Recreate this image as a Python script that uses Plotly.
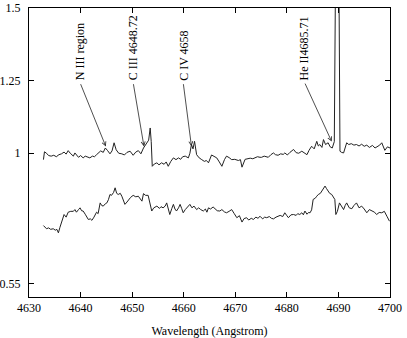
import plotly.graph_objects as go

# upper spectrum (wavelength, relative flux)
wl_top = [
  4632.8, 4633.0, 4633.4, 4633.8, 4634.3, 4634.8, 4635.3, 4635.8, 4636.3, 4636.8,
  4637.2, 4637.6, 4638.0, 4638.6, 4638.9, 4639.3, 4639.6, 4640.0, 4640.5, 4640.9,
  4641.4, 4641.8, 4642.3, 4642.7, 4643.1, 4643.5, 4643.9, 4644.4, 4644.8, 4645.2,
  4645.7, 4646.1, 4646.5, 4646.9, 4647.4, 4648.0, 4648.5, 4649.0, 4649.6, 4650.2,
  4650.7, 4651.2, 4651.7, 4652.2, 4652.8, 4653.2, 4653.5, 4653.7, 4653.9, 4654.3,
  4654.8, 4655.2, 4655.7, 4656.2, 4656.6, 4657.0, 4657.5, 4658.0, 4658.5, 4659.0,
  4659.4, 4659.8, 4660.3, 4660.9, 4661.2, 4661.5, 4661.8, 4662.1, 4662.5, 4663.0,
  4663.5, 4664.0, 4664.4, 4664.8, 4665.4, 4665.9, 4666.4, 4666.9, 4667.4, 4667.9,
  4668.3, 4668.8, 4669.3, 4669.9, 4670.6, 4671.0, 4671.3, 4671.9, 4672.4, 4672.9,
  4673.4, 4673.8, 4674.3, 4674.8, 4675.1, 4675.6, 4676.0, 4676.4, 4676.9, 4677.4,
  4677.8, 4678.3, 4678.8, 4679.3, 4679.6, 4680.1, 4680.6, 4681.0, 4681.3, 4681.8,
  4682.3, 4682.9, 4683.4, 4683.9, 4684.3, 4684.8, 4685.3, 4685.8, 4686.1, 4686.4,
  4686.8, 4687.1, 4687.5, 4688.0, 4688.4, 4688.8, 4689.2, 4689.6, 4689.8, 4690.3,
  4690.6, 4691.0, 4691.3, 4691.6, 4692.0, 4692.5, 4693.0, 4693.5, 4694.0, 4694.5,
  4695.0, 4695.5, 4696.0, 4696.6, 4697.1, 4697.6, 4698.0, 4698.4, 4699.0, 4699.5,
  4700.0,
]
flux_top = [
  0.978, 1.005, 1.000, 0.992, 0.990, 0.993, 0.988, 0.995, 0.998, 1.004,
  0.997, 1.009, 1.000, 0.990, 1.001, 0.993, 0.986, 0.992, 0.984, 0.990,
  0.986, 0.984, 0.990, 0.988, 0.995, 1.000, 1.008, 1.003, 1.018, 1.010,
  0.998, 1.008, 1.036, 1.012, 1.000, 0.998, 0.994, 1.003, 1.007, 0.993,
  1.004, 1.009, 0.998, 1.018, 1.036, 1.045, 1.087, 1.040, 0.955, 0.963,
  0.967, 0.960, 0.967, 0.962, 0.970, 0.955, 0.972, 0.984, 0.978, 0.984,
  0.979, 0.988, 0.990, 0.984, 1.000, 1.030, 1.015, 1.041, 0.995, 0.984,
  0.978, 0.972, 0.975, 0.967, 0.994, 0.990, 0.984, 0.970, 0.955, 0.978,
  0.990, 0.985, 0.978, 0.979, 0.975, 0.978, 0.952, 0.979, 0.981, 0.983,
  0.981, 0.984, 0.988, 0.986, 0.986, 0.990, 0.987, 0.986, 0.995, 1.001,
  0.995, 0.993, 0.998, 0.996, 1.001, 0.994, 1.003, 1.008, 1.013, 1.002,
  1.000, 1.007, 1.000, 0.995, 1.010, 1.024, 1.015, 1.041, 1.025, 1.030,
  1.020, 1.047, 1.030, 1.036, 1.022, 1.018, 1.040, 2.500, 2.500, 1.007,
  1.003, 1.001, 1.020, 1.036, 1.030, 1.033, 1.028, 1.030, 1.025, 1.031,
  1.024, 1.028, 1.020, 1.027, 1.018, 1.022, 1.028, 1.036, 1.010, 1.022,
  1.018,
]

# lower spectrum
wl_bot = [
  4632.8, 4633.1, 4633.4, 4633.8, 4634.2, 4634.7, 4635.1, 4635.4, 4635.7, 4636.0,
  4636.4, 4636.8, 4637.2, 4637.6, 4638.1, 4638.6, 4638.9, 4639.2, 4639.6, 4639.9,
  4640.2, 4640.5, 4640.9, 4641.2, 4641.5, 4641.9, 4642.2, 4642.6, 4643.1, 4643.4,
  4643.8, 4644.1, 4644.4, 4644.8, 4645.1, 4645.4, 4645.7, 4646.0, 4646.4, 4646.7,
  4647.0, 4647.3, 4647.7, 4648.0, 4648.3, 4648.6, 4649.0, 4649.3, 4649.7, 4650.2,
  4650.7, 4651.2, 4651.5, 4651.9, 4652.2, 4652.6, 4653.1, 4653.4, 4653.8, 4654.2,
  4654.8, 4655.3, 4655.6, 4656.0, 4656.4, 4656.7, 4657.0, 4657.3, 4657.7, 4658.0,
  4658.3, 4658.6, 4659.0, 4659.3, 4659.6, 4659.9, 4660.3, 4660.8, 4661.2, 4661.6,
  4662.0, 4662.5, 4662.9, 4663.3, 4663.8, 4664.2, 4664.5, 4664.8, 4665.2, 4665.7,
  4666.1, 4666.5, 4667.0, 4667.4, 4667.9, 4668.3, 4668.8, 4669.3, 4669.8, 4670.3,
  4670.8, 4671.3, 4671.7, 4672.2, 4672.6, 4673.1, 4673.5, 4674.0, 4674.4, 4674.8,
  4675.3, 4675.7, 4676.1, 4676.6, 4677.0, 4677.4, 4677.9, 4678.3, 4678.7, 4679.2,
  4679.6, 4680.0, 4680.3, 4680.8, 4681.3, 4681.8, 4682.1, 4682.5, 4682.9, 4683.2,
  4683.5, 4683.9, 4684.2, 4684.5, 4684.8, 4685.1, 4685.5, 4685.8, 4686.1, 4686.5,
  4686.8, 4687.1, 4687.4, 4687.7, 4688.0, 4688.3, 4688.7, 4689.0, 4689.3, 4689.5,
  4689.8, 4690.2, 4690.6, 4691.0, 4691.3, 4691.6, 4692.1, 4692.6, 4693.0, 4693.5,
  4694.0, 4694.5, 4695.0, 4695.5, 4696.0, 4696.5, 4697.0, 4697.4, 4697.9, 4698.4,
  4698.9, 4699.4, 4699.9,
]
flux_bot = [
  0.751, 0.745, 0.740, 0.743, 0.738, 0.740, 0.735, 0.738, 0.726, 0.745,
  0.770, 0.789, 0.780, 0.797, 0.800, 0.800, 0.806, 0.797, 0.806, 0.812,
  0.802, 0.801, 0.790, 0.780, 0.772, 0.774, 0.769, 0.780, 0.797, 0.792,
  0.829, 0.820, 0.818, 0.826, 0.829, 0.840, 0.858, 0.855, 0.865, 0.881,
  0.862, 0.858, 0.862, 0.852, 0.838, 0.824, 0.832, 0.841, 0.848, 0.855,
  0.850, 0.852, 0.845, 0.835, 0.861, 0.855, 0.855, 0.835, 0.801, 0.812,
  0.818, 0.810, 0.816, 0.812, 0.818, 0.829, 0.805, 0.789, 0.810, 0.824,
  0.808, 0.801, 0.812, 0.824, 0.810, 0.795, 0.806, 0.815, 0.824, 0.812,
  0.818, 0.806, 0.812, 0.806, 0.801, 0.808, 0.797, 0.812, 0.808, 0.815,
  0.808, 0.802, 0.801, 0.806, 0.798, 0.795, 0.800, 0.806, 0.792, 0.778,
  0.785, 0.763, 0.775, 0.778, 0.770, 0.776, 0.772, 0.780, 0.776, 0.783,
  0.774, 0.780, 0.778, 0.782, 0.776, 0.774, 0.780, 0.784, 0.786, 0.782,
  0.795, 0.785, 0.778, 0.788, 0.789, 0.786, 0.792, 0.789, 0.795, 0.788,
  0.801, 0.790, 0.796, 0.795, 0.805, 0.841, 0.845, 0.852, 0.858, 0.862,
  0.869, 0.878, 0.887, 0.878, 0.869, 0.862, 0.858, 0.850, 0.841, 0.789,
  0.800, 0.829, 0.815, 0.806, 0.820, 0.829, 0.812, 0.809, 0.820, 0.829,
  0.812, 0.818, 0.808, 0.795, 0.806, 0.801, 0.797, 0.789, 0.796, 0.795,
  0.800, 0.783, 0.766,
]

# line labels: text, arrow tip (wl, flux), label anchor (wl, flux)
labels = ["N III region", "C III 4648.72", "C IV 4658", "He II4685.71"]
tip_wl = [4644.9, 4652.3, 4661.5, 4688.7]
tip_flux = [1.023, 1.023, 1.024, 1.040]
tail_wl = [4639.9, 4650.2, 4659.9, 4683.4]
tail_flux = [1.243, 1.243, 1.243, 1.245]

font = dict(family="Liberation Serif, Times New Roman, serif", size=12, color="black")

fig = go.Figure()
for wl, fl in [(wl_top, flux_top), (wl_bot, flux_bot)]:
  fig.add_trace(go.Scatter(
    x=wl, y=fl, mode="lines",
    line={"color": "#222222", "width": 1},
    showlegend=False, hoverinfo="skip",
  ))

for txt, tx, ty, ax, ay in zip(labels, tip_wl, tip_flux, tail_wl, tail_flux):
  # arrow only
  fig.add_annotation(
    x=tx, y=ty, ax=ax, ay=ay, axref="x", ayref="y",
    text="", showarrow=True, arrowhead=5, arrowsize=1,
    arrowwidth=0.8, arrowcolor="#222222",
  )
  # rotated label sitting on top of the arrow tail
  fig.add_annotation(
    x=ax, y=ay, text=txt, textangle=-90, showarrow=False,
    xanchor="center", yanchor="bottom", font=font,
  )

axis = dict(
  showline=True, linecolor="black", linewidth=1, mirror="ticks",
  ticks="inside", ticklen=5, tickcolor="black", showgrid=False,
  zeroline=False, tickfont=font, automargin=False,
)

fig.update_layout({
  "width": 407, "height": 338,
  "margin": {"l": 29, "r": 17, "t": 8, "b": 41},
  "paper_bgcolor": "white", "plot_bgcolor": "white",
  "font": font,
  "xaxis": dict(axis, range=[4630, 4700], dtick=10,
                title={"text": "Wavelength (Angstrom)", "font": font, "standoff": 12}),
  "yaxis": dict(axis, range=[0.505, 1.5001], ticklabelstandoff=5,
                tickvals=[0.55, 1, 1.25, 1.5], ticktext=["0.55", "1", "1.25", "1.5"]),
})

# drop the default page margin so the figure sits at the window corner
fig.write_html("out.html", config={"displayModeBar": False},
               post_script="document.body.style.margin='0';")
